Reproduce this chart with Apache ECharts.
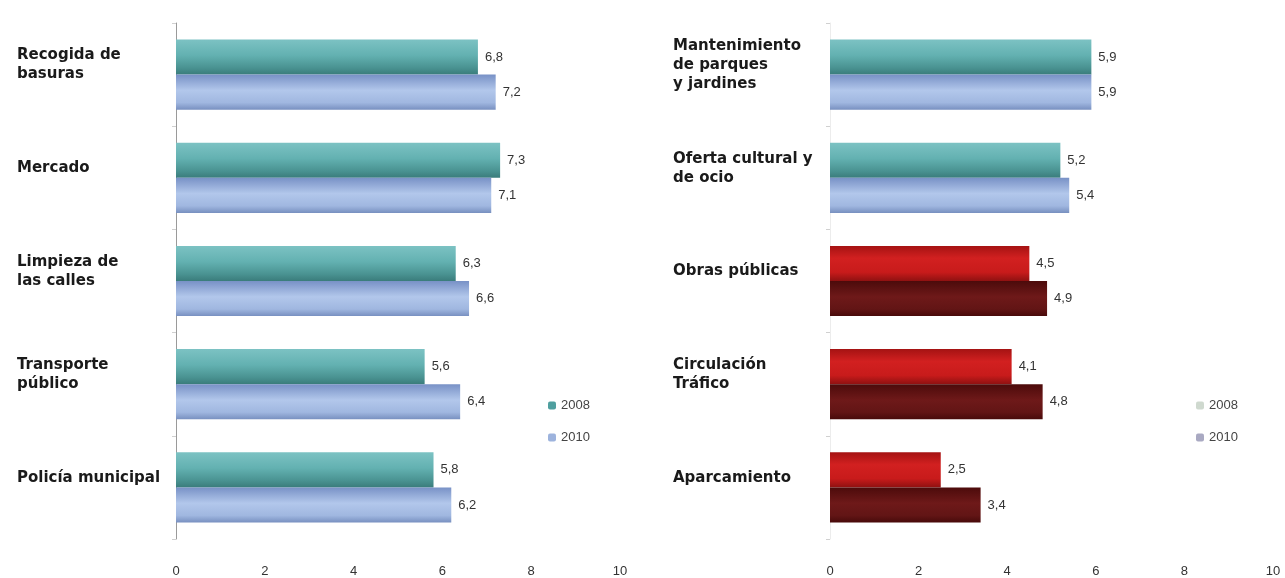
<!DOCTYPE html>
<html>
<head>
<meta charset="utf-8">
<script src="https://cdn.jsdelivr.net/npm/echarts@6/dist/echarts.min.js"></script>
<style>
html,body{margin:0;padding:0;background:#fff;}
#chart{width:1285px;height:578px;}
</style>
</head>
<body>
<div id="chart"></div>
<script>
// ---- data ----
const leftCategories = ['Recogida de\nbasuras', 'Mercado', 'Limpieza de\nlas calles', 'Transporte\npúblico', 'Policía municipal'];
const left2008 = [6.8, 7.3, 6.3, 5.6, 5.8];
const left2010 = [7.2, 7.1, 6.6, 6.4, 6.2];

const rightCategories = ['Mantenimiento\nde parques\ny jardines', 'Oferta cultural y\nde ocio', 'Obras públicas', 'Circulación\nTráfico', 'Aparcamiento'];
const right2008 = [5.9, 5.2, 4.5, 4.1, 2.5];
const right2010 = [5.9, 5.4, 4.9, 4.8, 3.4];
const rightLowScore = [false, false, true, true, true];

const seriesNames = ['2008', '2010'];
const xTicks = { min: 0, max: 10, interval: 2 };

// ---- styles ----
function grad(stops) {
  return { type: 'linear', x: 0, y: 0, x2: 0, y2: 1,
    colorStops: stops.map(s => ({ offset: s[0], color: s[1] })) };
}
const tealGrad = grad([[0, '#7cc2c3'], [0.45, '#63b1b1'], [0.8, '#4a9392'], [1, '#3a7c7b']]);
const blueGrad = grad([[0, '#7891c6'], [0.45, '#b2c7eb'], [0.8, '#a0b7e0'], [1, '#7890c0']]);
const redGrad = grad([[0, '#a51313'], [0.35, '#d22020'], [0.75, '#c81b1b'], [1, '#8f1111']]);
const darkRedGrad = grad([[0, '#4c0b0b'], [0.45, '#6e1919'], [0.8, '#621515'], [1, '#480a0a']]);

const catFont = { fontFamily: 'DejaVu Sans', fontWeight: 'bold', fontSize: 15, color: '#1a1a1a', lineHeight: 19 };
const valFont = { fontFamily: 'Liberation Sans', fontSize: 13, color: '#333' };

function fmt(p) { return String(p.value).replace('.', ','); }

function barSeries(name, data, xi, color) {
  return {
    type: 'bar', name: name, xAxisIndex: xi, yAxisIndex: xi,
    data: data, barGap: '0%', barCategoryGap: '32%',
    itemStyle: color ? { color: color } : undefined,
    label: Object.assign({ show: true, position: 'right', distance: 7, formatter: fmt }, valFont),
    emphasis: { disabled: true }
  };
}

const right2008Data = right2008.map((v, i) => ({ value: v, itemStyle: { color: rightLowScore[i] ? redGrad : tealGrad } }));
const right2010Data = right2010.map((v, i) => ({ value: v, itemStyle: { color: rightLowScore[i] ? darkRedGrad : blueGrad } }));

function xAxisCfg(gi) {
  return {
    type: 'value', gridIndex: gi, min: xTicks.min, max: xTicks.max, interval: xTicks.interval,
    splitLine: { show: false }, axisLine: { show: false }, axisTick: { show: false },
    axisLabel: Object.assign({ margin: 26 }, valFont)
  };
}
function yAxisCfg(gi, cats, lineColor, margin) {
  return {
    type: 'category', gridIndex: gi, data: cats, inverse: true,
    axisLine: { show: true, lineStyle: { color: lineColor, width: 1 } },
    axisTick: { show: true, length: 4, lineStyle: { color: '#d0d0d0' } },
    axisLabel: Object.assign({ align: 'left', margin: margin, formatter: v => v + '\n' }, catFont)
  };
}

const chart = echarts.init(document.getElementById('chart'), null, { renderer: 'canvas' });
chart.setOption({
  animation: false,
  backgroundColor: '#ffffff',
  grid: [
    { left: 176, right: 665, top: 23, bottom: 38 },
    { left: 830, right: 12, top: 23, bottom: 38 }
  ],
  legend: [
    { orient: 'vertical', left: 543, top: 394, itemWidth: 8, itemHeight: 8, itemGap: 19,
      textStyle: { fontFamily: 'Liberation Sans', fontSize: 13, color: '#444' },
      data: [{ name: seriesNames[0], itemStyle: { color: '#4f9f9f' } }, { name: seriesNames[1], itemStyle: { color: '#9db3dd' } }],
      selectedMode: false },
    { orient: 'vertical', left: 1191, top: 394, itemWidth: 8, itemHeight: 8, itemGap: 19,
      textStyle: { fontFamily: 'Liberation Sans', fontSize: 13, color: '#444' },
      data: [{ name: seriesNames[0], itemStyle: { color: '#cfd9cf' } }, { name: seriesNames[1], itemStyle: { color: '#a9a9c2' } }],
      selectedMode: false }
  ],
  xAxis: [xAxisCfg(0), xAxisCfg(1)],
  yAxis: [yAxisCfg(0, leftCategories, '#9a9a9a', 159), yAxisCfg(1, rightCategories, '#ececec', 157)],
  series: [
    barSeries(seriesNames[0], left2008, 0, tealGrad),
    barSeries(seriesNames[1], left2010, 0, blueGrad),
    barSeries(seriesNames[0], right2008Data, 1, null),
    barSeries(seriesNames[1], right2010Data, 1, null)
  ]
});
</script>
</body>
</html>
